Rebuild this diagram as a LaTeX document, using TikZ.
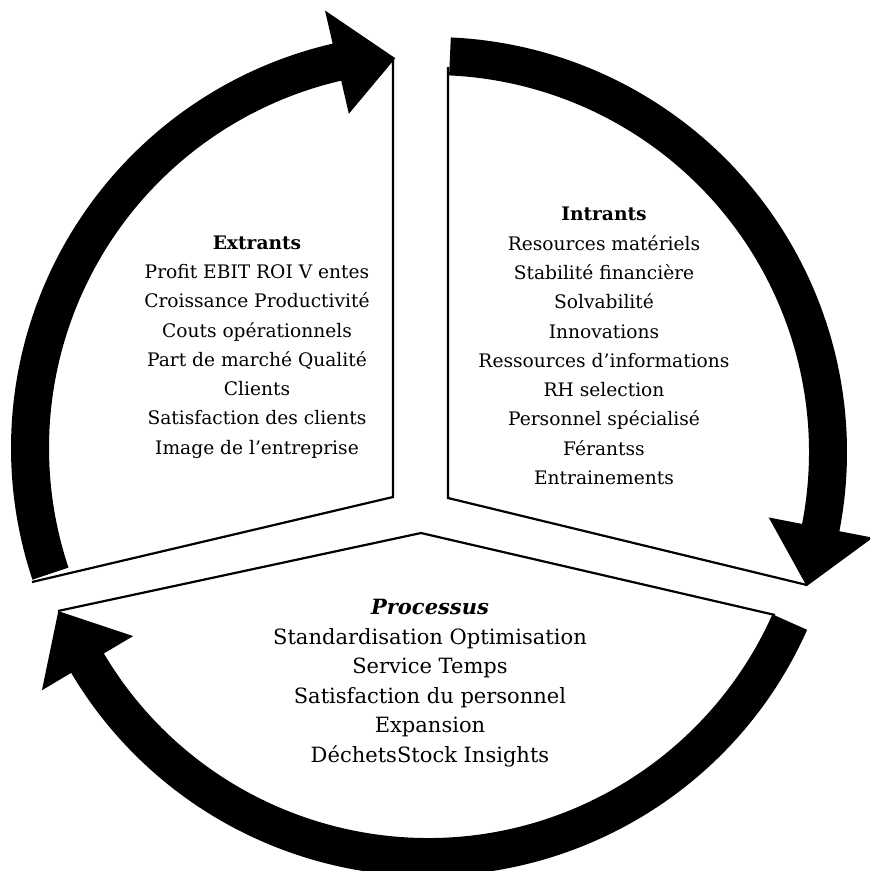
\documentclass[tikz,border=0pt]{standalone}
\usepackage{fontspec}
\setmainfont{DejaVu Serif}
\newcommand\circarrow[6]{% #1 center, #2 tail angle, #3 head base angle, #4 tip angle, #5 tip radius
  \fill[shift={#1}] (#2:415) arc[start angle=#2, end angle=#3, radius=415]
    -- (#3:449) -- (#4:#5) -- (#3:343) -- (#3:377)
    arc[start angle=#3, end angle=#2, radius=377] -- cycle;}
\begin{document}
\begin{tikzpicture}[x=1bp,y=1bp,
  edge/.style={line width=2.2bp, line join=miter},
  txt/.style={align=center, inner sep=0pt, font=\fontsize{18.7}{29.4}\selectfont},
  bigtxt/.style={txt, font=\fontsize{21.1}{29.6}\selectfont}]
\useasboundingbox (0,0) rectangle (870,-871);
% sector corners
\coordinate (eA) at (393,-497);
\coordinate (eT) at (393,-58);
\coordinate (eB) at (32,-582);
\coordinate (iA) at (448,-498);
\coordinate (iT) at (448,-67);
\coordinate (iB) at (807,-585);
\coordinate (pA) at (421,-533);
\coordinate (pL) at (58,-611);
\coordinate (pR) at (775,-615);
\draw[edge] (eT) -- (eA) -- (eB);
\draw[edge] (iT) -- (iA) -- (iB);
\draw[edge] (pL) -- (pA) -- (pR);
% arrows
\circarrow{(426,-448)}{198.5}{103}{94.5}{391}{e}
\circarrow{(432,-452)}{87.4}{-11}{-19.7}{398}{i}
\circarrow{(428,-461)}{-24}{-149.3}{-157.9}{399}{p}
% texts
\node[txt] (ext) at (257,-347) {\textbf{Extrants}\\Profit EBIT ROI V entes\\Croissance Productivité\\Couts opérationnels\\Part de marché Qualité\\Clients\\Satisfaction des clients\\Image de l’entreprise};
\node[txt] (int) at (604,-346) {\textbf{Intrants}\\Resources matériels\\Stabilité financière\\Solvabilité\\Innovations\\Ressources d’informations\\RH selection\\Personnel spécialisé\\Férantss\\Entrainements};
\node[bigtxt] (pro) at (430,-683) {\textbf{\textit{Processus}}\\Standardisation Optimisation\\Service Temps\\Satisfaction du personnel\\Expansion\\DéchetsStock Insights};
\end{tikzpicture}
\end{document}
